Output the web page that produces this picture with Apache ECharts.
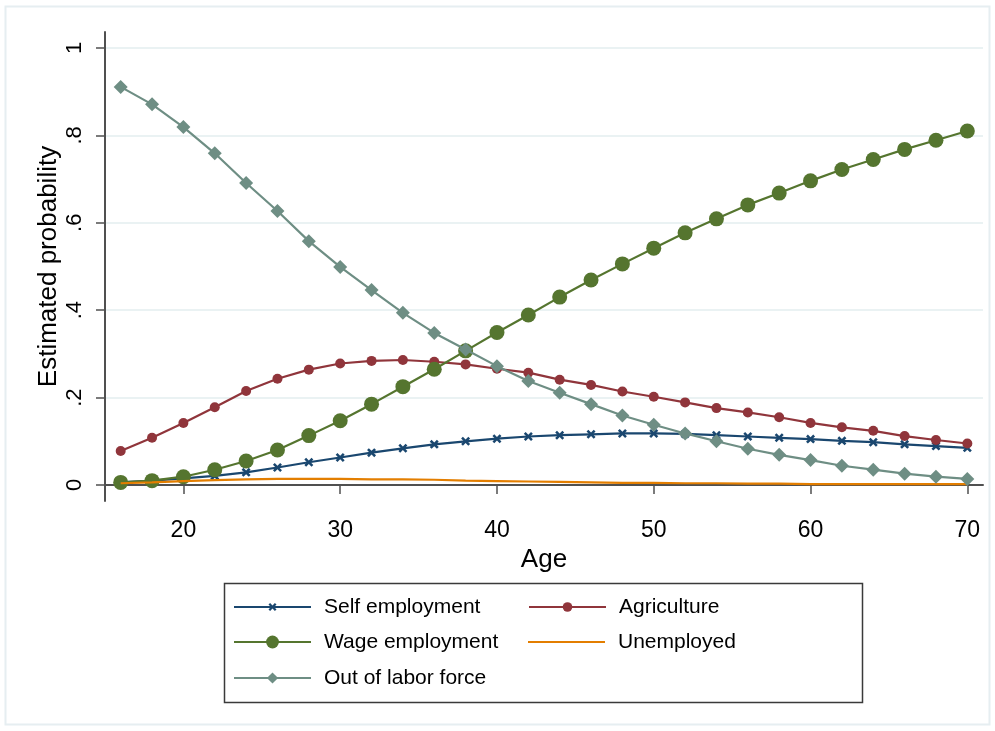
<!DOCTYPE html>
<html>
<head>
<meta charset="utf-8">
<script src="https://cdn.jsdelivr.net/npm/echarts@6/dist/echarts.min.js"></script>
<style>
html,body{margin:0;padding:0;background:#fff;}
#main{width:995px;height:731px;}
</style>
</head>
<body>
<div id="main"></div>
<script>
// ages on the x axis
var ages = [16,18,20,22,24,26,28,30,32,34,36,38,40,42,44,46,48,50,52,54,56,58,60,62,64,66,68,70];
// estimated probabilities
var selfEmp = [.006,.010,.015,.021,.029,.040,.052,.063,.074,.084,.093,.100,.106,.111,.114,.116,.118,.118,.117,.114,.111,.108,.105,.101,.098,.093,.089,.085];
var agri    = [.078,.108,.142,.178,.215,.243,.264,.278,.284,.286,.282,.276,.266,.257,.241,.229,.214,.202,.189,.176,.166,.155,.142,.132,.124,.112,.103,.095];
var wageEmp = [.006,.010,.019,.035,.055,.080,.113,.147,.185,.225,.265,.307,.349,.389,.430,.469,.506,.542,.577,.609,.641,.668,.696,.722,.745,.768,.789,.810];
var unemp   = [.004,.006,.009,.011,.013,.014,.014,.014,.013,.013,.012,.010,.009,.008,.007,.006,.005,.005,.004,.004,.003,.003,.002,.002,.002,.002,.002,.002];
var outLF   = [.911,.871,.819,.759,.691,.627,.558,.499,.446,.394,.348,.310,.272,.238,.211,.185,.159,.138,.118,.100,.083,.069,.057,.044,.035,.026,.019,.014];

var yTicks = [0,.2,.4,.6,.8,1];
var xTicks = [20,30,40,50,60,70];

var FONT = 'Liberation Sans, Arial, sans-serif';
var xMark = 'path://M0,2L2,0L5,3L8,0L10,2L7,5L10,8L8,10L5,7L2,10L0,8L3,5Z';

function pairs(vals){
	var out = [];
	for(var i=0;i<ages.length;i++) out.push([ages[i], vals[i]]);
	return out;
}
function stataNum(v){//stata writes .2 instead of 0.2
	if(v==0) return '0';
	if(v==1) return '1';
	return String(v).replace(/^0/,'');
}

// name, data, color, symbol, size on plot, legend itemHeight, legend col, legend row
var seriesDefs = [
	['Self employment', selfEmp, '#1a476f', xMark, 9, 10, 0, 0],
	['Agriculture', agri, '#90353b', 'circle', 10, 12, 1, 0],
	['Wage employment', wageEmp, '#55752f', 'circle', 15, 16, 0, 1],
	['Unemployed', unemp, '#e37e00', 'none', 0, 2.2, 1, 1],
	['Out of labor force', outLF, '#6e8e84', 'diamond', 14, 14, 0, 2]
];
var legendCols = [233, 528];
var legendRows = [607, 642, 678];

var series = [];
var legends = [];
for(var i=0;i<seriesDefs.length;i++)
{
	var d = seriesDefs[i];
	series.push({
		name: d[0],
		type: 'line',
		data: pairs(d[1]),
		symbol: d[3],
		symbolSize: d[4],
		showSymbol: d[3]!='none',
		showAllSymbol: true,
		lineStyle: {color: d[2], width: 2.2},
		itemStyle: {color: d[2]},
		z: 2+i
	});
	var item = {name: d[0]};
	if(d[3]=='none') item.icon = 'rect';//plain line, no marker
	legends.push({
		data: [item],
		left: legendCols[d[6]],
		top: legendRows[d[7]] - 11,
		padding: 0,
		itemWidth: 77,
		itemHeight: d[5],
		textStyle: {fontFamily: FONT, fontSize: 21, color: '#000', lineHeight: 22, padding: [0,0,0,8]}
	});
}

var chart = echarts.init(document.getElementById('main'));
chart.setOption({
	animation: false,
	backgroundColor: '#fff',
	grid: {left: 105, top: 32, right: 12, bottom: 230},
	xAxis: {
		type: 'value',
		min: 15, max: 71,
		name: 'Age',
		nameLocation: 'middle',
		nameGap: 46,
		nameMoveOverlap: false,
		nameTextStyle: {fontFamily: FONT, fontSize: 26, color: '#000'},
		axisLine: {lineStyle: {color: '#505050', width: 2}},
		axisTick: {length: 9, lineStyle: {color: '#505050', width: 1.5}, customValues: xTicks},
		axisLabel: {fontFamily: FONT, fontSize: 23, color: '#000', margin: 18, customValues: xTicks},
		splitLine: {show: false}
	},
	yAxis: {
		type: 'value',
		min: -0.0366, max: 1.0366,
		name: 'Estimated probability',
		nameLocation: 'middle',
		nameGap: 43,
		nameRotate: 90,
		nameMoveOverlap: false,
		nameTextStyle: {fontFamily: FONT, fontSize: 26, color: '#000'},
		axisLine: {show: true, lineStyle: {color: '#505050', width: 2}},
		axisTick: {show: true, length: 9, lineStyle: {color: '#505050', width: 1.5}, customValues: yTicks},
		axisLabel: {fontFamily: FONT, fontSize: 22, color: '#000', margin: 19, rotate: 90, customValues: yTicks, formatter: stataNum},
		splitLine: {show: true, lineStyle: {color: '#eaf2f3', width: 2}}
	},
	legend: legends,
	graphic: [
		{type: 'rect', shape: {x: 5.5, y: 6.5, width: 984, height: 718}, style: {fill: null, stroke: '#e6eef1', lineWidth: 2}, silent: true, z: -1},
		{type: 'rect', shape: {x: 224.5, y: 583.5, width: 638, height: 119}, style: {fill: null, stroke: '#3a3a3a', lineWidth: 1.5}, silent: true}
	],
	series: series
});
</script>
</body>
</html>
